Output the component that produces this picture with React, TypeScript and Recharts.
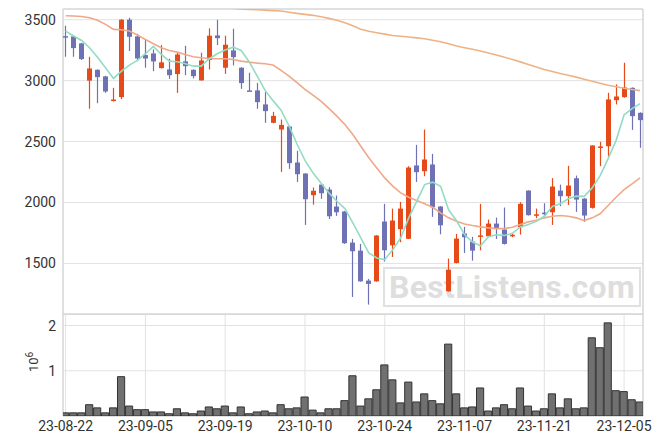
import React from 'react';
import {
  ComposedChart,
  Bar,
  Line,
  XAxis,
  YAxis,
  CartesianGrid,
  ReferenceArea,
} from 'recharts';

const tickIdx = [0, 10, 20, 30, 40, 50, 60, 70];
const tickLabels = ['23-08-22', '23-09-05', '23-09-19', '23-10-10', '23-10-24', '23-11-07', '23-11-21', '23-12-05'];
const priceTicks = [1500, 2000, 2500, 3000, 3500];
const volTicks = [1, 2];

const opens = [
  3365, 3363, 3306, 3000, 3089, 3035, 2835, 2865, 3500, 3363,
  3210, 3223, 3103, 3092, 3054, 3158, 3089, 3002, 3169, 3371,
  3106, 3248, 3106, 2920, 2920, 2805, 2654, 2599, 2624, 2328,
  2238, 2060, 2147, 2106, 1967, 1926, 1671, 1605, 1359, 1353,
  1844, 1649, 1781, 1702, 2304, 2257, 2312, 1967, 1271, 1504,
  1745, 1679, 1720, 1723, 1827, 1778, 1725, 1797, 2098, 1893,
  1917, 1920, 2098, 2052, 2199, 2032, 1956, 2448, 2462, 2840,
  2865, 2941, 2736,
];
const highs = [
  3451, 3363, 3310, 3196, 3092, 3040, 2941, 3505, 3516, 3385,
  3338, 3256, 3292, 3180, 3229, 3286, 3092, 3229, 3429, 3500,
  3369, 3426, 3110, 3065, 2982, 2906, 2744, 2681, 2630, 2424,
  2240, 2123, 2150, 2126, 2057, 1930, 1701, 1660, 1373, 1732,
  1989, 1950, 2005, 2298, 2473, 2599, 2399, 1970, 1540, 1742,
  1800, 1718, 1989, 1860, 1876, 1959, 1745, 2002, 2100, 1950,
  1994, 2200, 2147, 2301, 2221, 2035, 2470, 2498, 2900, 2969,
  3147, 2945, 2740,
];
const lows = [
  3196, 3196, 3170, 2769, 2815, 2900, 2829, 2848, 3243, 3160,
  3106, 3078, 3100, 3015, 2900, 3045, 3018, 3000, 3092, 3292,
  3056, 3125, 2933, 2915, 2769, 2654, 2650, 2251, 2276, 2169,
  1816, 1983, 2030, 1865, 1890, 1660, 1225, 1350, 1162, 1350,
  1515, 1553, 1674, 1700, 2169, 2216, 1882, 1739, 1268, 1500,
  1586, 1523, 1608, 1720, 1701, 1655, 1715, 1737, 1893, 1871,
  1874, 1816, 1970, 1980, 1923, 1841, 1950, 2298, 2377, 2805,
  2860, 2596, 2449,
];
const closes = [
  3360, 3267, 3177, 3100, 3029, 2911, 2845, 3500, 3360, 3182,
  3182, 3158, 3150, 3045, 3215, 3119, 3037, 3166, 3369, 3349,
  3295, 3193, 2980, 2915, 2824, 2750, 2711, 2637, 2323, 2232,
  2027, 2096, 2076, 1887, 1920, 1666, 1600, 1353, 1332, 1729,
  1608, 1852, 1950, 2287, 2249, 2353, 1961, 1813, 1449, 1704,
  1715, 1605, 1730, 1827, 1786, 1660, 1735, 1989, 1896, 1903,
  1904, 2131, 2052, 2139, 2024, 1893, 2468, 2460, 2846, 2870,
  2944, 2709, 2676,
];
// volume, millions of shares
const volumes = [
  0.07, 0.07, 0.07, 0.25, 0.18, 0.07, 0.18, 0.87, 0.22, 0.14,
  0.14, 0.09, 0.09, 0.05, 0.16, 0.07, 0.05, 0.11, 0.2, 0.16,
  0.22, 0.07, 0.2, 0.05, 0.09, 0.11, 0.07, 0.25, 0.16, 0.18,
  0.42, 0.13, 0.07, 0.16, 0.16, 0.34, 0.89, 0.22, 0.38, 0.58,
  1.13, 0.8, 0.29, 0.75, 0.31, 0.49, 0.34, 0.27, 1.59, 0.49,
  0.18, 0.2, 0.62, 0.11, 0.18, 0.25, 0.16, 0.62, 0.22, 0.11,
  0.16, 0.49, 0.18, 0.38, 0.16, 0.18, 1.73, 1.51, 2.06, 0.56,
  0.54, 0.36, 0.31,
];
const ma5 = [
  3407, 3366, 3330, 3270, 3192, 3105, 3018, 3078, 3128, 3166,
  3221, 3281, 3215, 3160, 3155, 3139, 3119, 3119, 3180, 3221,
  3251, 3275, 3248, 3155, 3040, 2920, 2836, 2758, 2630, 2480,
  2345, 2244, 2161, 2079, 2010, 1950, 1832, 1709, 1586, 1545,
  1531, 1613, 1709, 1874, 2010, 2147, 2167, 2133, 1940, 1850,
  1737, 1676, 1645, 1720, 1735, 1730, 1747, 1799, 1820, 1845,
  1887, 1967, 1990, 2030, 2052, 2050, 2120, 2220, 2360, 2510,
  2720, 2770, 2812,
];
const ma20 = [
  3533, 3530, 3527, 3516, 3495, 3462, 3421, 3418, 3407, 3374,
  3338, 3303, 3270, 3248, 3234, 3215, 3196, 3188, 3182, 3180,
  3180, 3174, 3160, 3152, 3144, 3139, 3128, 3084, 3037, 2983,
  2928, 2881, 2832, 2772, 2709, 2640, 2558, 2462, 2367, 2284,
  2202, 2134, 2079, 2043, 2016, 1989, 1961, 1915, 1874, 1846,
  1824, 1811, 1800, 1792, 1786, 1786, 1797, 1819, 1841, 1854,
  1874, 1887, 1893, 1887, 1874, 1852, 1874, 1907, 1975, 2043,
  2106, 2153, 2202,
];
const ma60 = [
  null, null, null, null, null, null, null, null, null, null,
  null, null, null, null, null, null, null, null, null, null,
  null, 3592, 3588, 3585, 3582, 3579, 3575, 3571, 3562, 3552,
  3544, 3536, 3524, 3511, 3495, 3475, 3450, 3421, 3405, 3393,
  3382, 3371, 3364, 3358, 3351, 3344, 3332, 3319, 3303, 3284,
  3270, 3257, 3243, 3227, 3210, 3192, 3174, 3154, 3133, 3112,
  3092, 3075, 3059, 3044, 3029, 3012, 2995, 2978, 2962, 2950,
  2937, 2927, 2918,
];

const UP = '#E64A19';
const DOWN = '#6E72B4';
const GRID = '#e2e2e2';
const FRAME = '#cfcfcf';
const TEXT = '#333';
const X_DOMAIN: [number, number] = [-0.33, 72.37];
const P_DOMAIN: [number, number] = [1085, 3588];
const V_DOMAIN: [number, number] = [0, 2.256];

const data = opens.map((open, i) => ({
  i,
  open,
  high: highs[i],
  low: lows[i],
  close: closes[i],
  range: [lows[i], highs[i]],
  volume: volumes[i],
  ma5: ma5[i],
  ma20: ma20[i],
  ma60: ma60[i],
}));

const Candle = (props: any) => {
  const { x, y, width, height, payload } = props;
  const { open, close, high, low } = payload;
  const color = close >= open ? UP : DOWN;
  const span = high - low || 1;
  const py = (v: number) => y + ((high - v) / span) * height;
  const cx = Math.round(x + width / 2) + 0.5;
  const top = py(Math.max(open, close));
  const bottom = py(Math.min(open, close));
  return (
    <g>
      <line x1={cx} x2={cx} y1={y} y2={y + height} stroke={color} strokeWidth={1.2} />
      <rect x={cx - 2.5} y={top} width={5} height={Math.max(bottom - top, 1.5)} fill={color} />
    </g>
  );
};

const tickStyle = { fill: TEXT, fontSize: 14, fontFamily: 'Roboto' };

export default function App() {
  return (
    <div style={{ position: 'absolute', left: 0, top: 0, width: 663, height: 444, background: '#fff', fontFamily: 'Roboto' }}>
      <div
        style={{
          position: 'absolute',
          left: 383,
          top: 267,
          width: 254,
          height: 36,
          border: '2px solid #e0e0e0',
          color: '#dedede',
          fontFamily: 'Roboto',
          fontWeight: 700,
          fontSize: 32,
          lineHeight: '36px',
          textAlign: 'center',
          letterSpacing: 0.3,
        }}
      >
        BestListens.com
      </div>

      <div style={{ position: 'absolute', left: 0, top: 0 }}>
        <ComposedChart width={663} height={315} data={data} margin={{ top: 9, right: 20, bottom: 1, left: 0 }}>
          <CartesianGrid stroke={GRID} />
          <ReferenceArea x1={X_DOMAIN[0]} x2={X_DOMAIN[1]} y1={P_DOMAIN[0]} y2={P_DOMAIN[1]} fill="none" stroke={FRAME} ifOverflow="visible" />
          <XAxis
            dataKey="i"
            type="number"
            domain={X_DOMAIN}
            ticks={tickIdx}
            allowDataOverflow
            height={0}
            tick={false}
            axisLine={false}
            tickLine={false}
          />
          <YAxis
            type="number"
            domain={P_DOMAIN}
            ticks={priceTicks}
            allowDataOverflow
            width={63}
            axisLine={false}
            tickLine={false}
            tickSize={0}
            tickMargin={7}
            tick={tickStyle}
          />
          <Line dataKey="ma60" stroke="#EDB386" strokeWidth={1.6} dot={false} isAnimationActive={false} />
          <Line dataKey="ma20" stroke="#F0A88A" strokeWidth={1.6} dot={false} isAnimationActive={false} />
          <Line dataKey="ma5" stroke="#93DCC4" strokeWidth={1.6} dot={false} isAnimationActive={false} />
          <Bar dataKey="range" barSize={8} shape={<Candle />} isAnimationActive={false} />
        </ComposedChart>
      </div>

      <div style={{ position: 'absolute', left: 0, top: 314 }}>
        <ComposedChart width={663} height={130} data={data} margin={{ top: 0, right: 20, bottom: 0, left: 0 }}>
          <CartesianGrid stroke={GRID} />
          <ReferenceArea x1={X_DOMAIN[0]} x2={X_DOMAIN[1]} y1={V_DOMAIN[0]} y2={V_DOMAIN[1]} fill="none" stroke={FRAME} ifOverflow="visible" />
          <XAxis
            dataKey="i"
            type="number"
            domain={X_DOMAIN}
            ticks={tickIdx}
            allowDataOverflow
            interval={0}
            height={28}
            axisLine={false}
            tickLine={false}
            tickSize={0}
            tickMargin={5}
            tick={tickStyle}
            tickFormatter={(v: number) => tickLabels[tickIdx.indexOf(v)] ?? ''}
          />
          <YAxis
            type="number"
            domain={V_DOMAIN}
            ticks={volTicks}
            allowDataOverflow
            width={63}
            axisLine={false}
            tickLine={false}
            tickSize={0}
            tickMargin={7}
            tick={tickStyle}
          />
          <Bar dataKey="volume" barSize={8} fill="#707070" stroke="#333" strokeWidth={1} isAnimationActive={false} />
        </ComposedChart>
      </div>

      <svg width={40} height={40} style={{ position: 'absolute', left: 10, top: 345 }}>
        <text transform="translate(28,27) rotate(-90)" fontFamily="Roboto" fontSize={13} fill={TEXT}>
          10
          <tspan dy={-5} fontSize={10}>6</tspan>
        </text>
      </svg>
    </div>
  );
}
